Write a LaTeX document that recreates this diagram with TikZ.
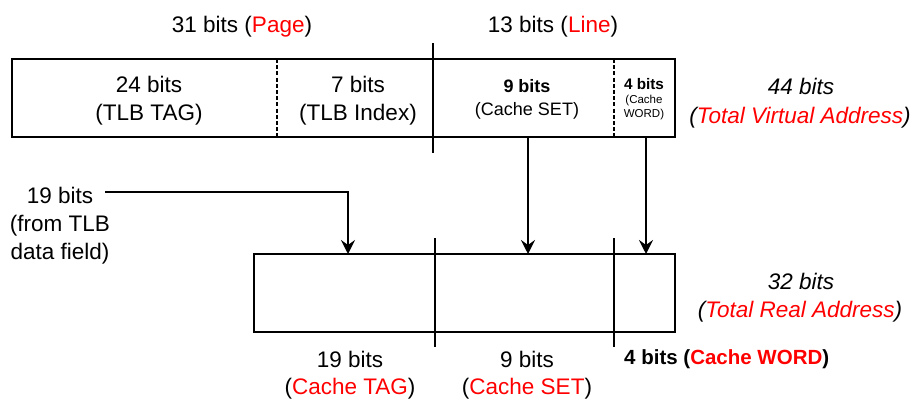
\documentclass[tikz,border=0pt]{standalone}
\usepackage{fontspec}
\setmainfont{Liberation Sans}
\usetikzlibrary{arrows.meta}
\definecolor{hred}{RGB}{255,0,0}
\newcommand{\rd}[1]{\textcolor{hred}{#1}}
\begin{document}
\begin{tikzpicture}[x=1pt,y=-1pt,
  box/.style={draw, line width=1.5pt},
  sep/.style={line width=1.4pt},
  dsep/.style={line width=2pt, dash pattern=on 4pt off 2.2pt},
  arr/.style={line width=2.2pt, -{Stealth[length=14pt,width=14pt,inset=5pt]}},
  tlink/.style={line width=1.6pt, -{Stealth[length=14pt,width=14pt,inset=5pt]}},
  big/.style={anchor=base, inner sep=0pt, font=\fontsize{22.5}{27}\selectfont},
  bigit/.style={anchor=base, inner sep=0pt, font=\fontsize{22.5}{27}\selectfont\itshape},
  midb/.style={anchor=base, inner sep=0pt, font=\fontsize{18}{22}\selectfont\bfseries},
  mid/.style={anchor=base, inner sep=0pt, font=\fontsize{18}{22}\selectfont},
  smb/.style={anchor=base, inner sep=0pt, font=\fontsize{15.3}{18}\selectfont\bfseries},
  tiny/.style={anchor=base, inner sep=0pt, font=\fontsize{11.5}{14}\selectfont},
  botb/.style={anchor=base, inner sep=0pt, font=\fontsize{20.5}{24}\selectfont\bfseries}
]
\useasboundingbox (0,0) rectangle (918,399);

% top (virtual address) box
\draw[box] (12,59) rectangle (675,137);
\draw[dsep] (277,59) -- (277,137);
\draw[sep] (433,43) -- (433,153);
\draw[dsep] (614,59) -- (614,137);

% bottom (real address) box
\draw[box] (254,254) rectangle (675,332);
\draw[sep] (435,238) -- (435,347);
\draw[sep] (614,238) -- (614,347);

% coordinates for connectors
\coordinate (setsrc) at (528,137);
\coordinate (setdst) at (528,254);
\coordinate (wordsrc) at (646,137);
\coordinate (worddst) at (646,254);
\coordinate (tlbout) at (105,192);
\coordinate (tlbbend) at (348,192);
\coordinate (tagdst) at (348,254);

% top labels
\node[big] (page) at (242,32) {31 bits (\rd{Page})};
\node[big] (line) at (553,32) {13 bits (\rd{Line})};

\node[big] (tag1) at (149,92) {24 bits};
\node[big] (tag2) at (149,120) {(TLB TAG)};
\node[big] (idx1) at (358,92) {7 bits};
\node[big] (idx2) at (358,120) {(TLB Index)};
\node[midb] (set1) at (527,92) {9 bits};
\node[mid] (set2) at (527,115) {(Cache SET)};
\node[smb] (wd1) at (644,89) {4 bits};
\node[tiny] (wd2) at (644,103) {(Cache};
\node[tiny] (wd3) at (644,117) {WORD)};

\node[bigit] (va1) at (801,94) {44 bits};
\node[bigit] (va2) at (800,123) {(\rd{Total Virtual Address})};

% left label
\node[big] (tlb1) at (60,203) {19 bits};
\node[big] (tlb2) at (60,231) {(from TLB};
\node[big] (tlb3) at (60,259) {data field)};

% real address labels
\node[bigit] (ra1) at (801,289) {32 bits};
\node[bigit] (ra2) at (800,317) {(\rd{Total Real Address})};

\node[big] (ct1) at (350,367) {19 bits};
\node[big] (ct2) at (350,394) {(\rd{Cache TAG})};
\node[big] (cs1) at (527,367) {9 bits};
\node[big] (cs2) at (527,394) {(\rd{Cache SET})};
\node[botb, anchor=base west] (cw) at (624,364) {4 bits (\rd{Cache WORD})};

% connectors
\draw[arr] (setsrc) -- (setdst);
\draw[arr] (wordsrc) -- (worddst);
\draw[tlink] (tlbout) -- (tlbbend) -- (tagdst);
\end{tikzpicture}
\end{document}
